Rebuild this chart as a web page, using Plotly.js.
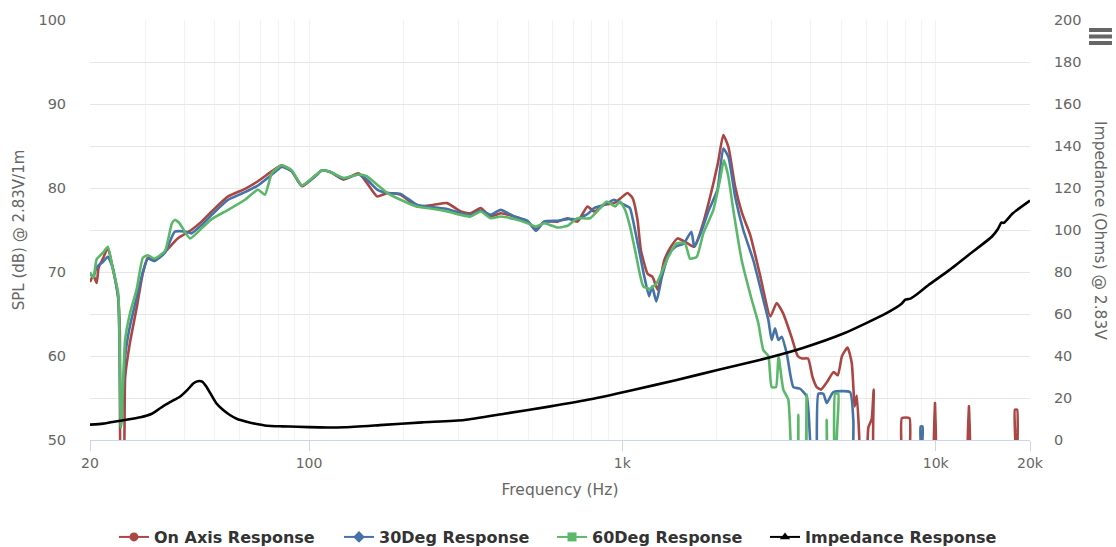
<!DOCTYPE html>
<html>
<head>
<meta charset="utf-8">
<script src="https://cdn.plot.ly/plotly-3.0.1.min.js"></script>
<style>html,body{margin:0;padding:0;background:#fff;}#chart{width:1116px;height:547px;}</style>
</head>
<body>
<div id="chart"></div>
<script>
// ---- Data ----
const onAxisFreq = [20,20.5,21,21.3,22,22.8,23.6,24.6,24.9,25.2,25.5,25.9,26.8,28.2,29.5,30.6,32.1,34.7,38.1,42.1,45.4,48.9,55.2,62.5,68.7,76.2,81.8,88.1,94.9,104.6,110,117,129,144,153,165,178,196,221,250,276,305,328,353,380,409,452,498,530,563,621,669,719,774,813,875,942,989,1039,1078,1118,1146,1204,1249,1296,1361,1429,1501,1615,1697,1783,1896,2017,2100,2180,2290,2410,2560,2744,2967,3108,3257,3464,3628,3746,3914,4045,4172,4306,4500,4724,4872,5024,5232,5396,5516,5602,5700,5780,5950,6100,6250,6342,6450,7700,7800,8250,8350,9850,9950,10050,12650,12770,12900,17700,17900,18200,18450,20000];
const onAxisSpl  = [68.8,69.6,68.7,70.5,71.6,72.9,70.6,67,63,45,45,57.5,61.5,65.8,69.9,71.7,71.4,72.4,74,75,76,77.2,79,79.9,80.8,82,82.7,82,80.2,81.4,82.1,81.9,81,81.75,80.6,79,79.4,79.2,77.8,78,78.2,77.2,77,77.6,76.6,77,76.6,76,75.1,76,76,76.4,76,77.8,77.2,78,78.2,78.8,79.4,78.8,76.2,72.6,69.8,69.4,67.9,71.4,73,74,73.4,73,75,78.6,82.9,86.3,84.9,80.2,77,74.4,69.8,64.7,66.3,65.1,62.3,60,59.7,59.7,57.5,56.3,56,56.9,58.1,57.7,60,61,59.2,54,55.3,50.5,45,45,51.5,52.5,56,45,45,52.6,52.6,45,45,54.4,45,45,54,45,45,53.6,53.6,45,45];

const deg30Freq = [20,20.5,21,22,22.8,23.6,24.6,25.1,25.9,26.8,28.2,29.5,30.6,32.1,34.7,37.3,40.5,42.1,45.4,48.9,55.2,62.5,68.7,76.2,81.8,88.1,94.9,104.6,110,117,129,144,153,165,178,196,221,250,276,305,328,353,380,409,452,498,530,563,621,669,719,774,813,875,942,989,1039,1058,1114,1170,1217,1244,1284,1337,1409,1477,1571,1661,1697,1778,1890,2012,2100,2180,2290,2432,2618,2818,2924,2996,3071,3148,3227,3347,3514,3690,3876,3973,4045,4140,4222,4379,4490,4714,5330,5460,5600,8850,8950,9080,9200,20000];
const deg30Spl  = [69.8,69.4,70.6,71.2,71.8,70.6,67,51.5,60,63.5,67,70,71.6,71.3,72.3,74.8,74.8,74.6,75.6,76.8,78.6,79.5,80.3,81.6,82.5,82,80.3,81.4,82.1,81.9,81.1,81.6,81,79.8,79.4,79.3,78,77.7,77.5,77,76.8,77.3,76.8,77.4,76.6,76.1,74.9,76,76.1,76.3,76.3,76.9,77.6,78,78.6,78.2,77.8,77.6,73.8,69.8,67.1,68.3,66.5,69.4,72.2,73,73.4,74.8,73,74.6,77.4,79.8,84.7,83.7,79,75,71.4,66.7,64.3,61.9,63.3,61.9,62.3,60.3,56.3,56.1,55.2,50,45,45,55.5,55.5,54.4,55.7,55.7,52.4,45,45,51.6,51.6,45,45];

const deg60Freq = [20,20.5,21,22,22.8,23.6,24.6,25.1,25.9,26.8,28.2,29.5,30.6,32.1,34.7,36.5,37.3,38.6,41.7,45.4,48.9,55.2,62.5,68.7,72.3,76.2,81.8,88.1,94.9,104.6,110,117,129,144,153,165,178,196,221,250,276,305,328,353,380,409,452,498,530,563,621,669,719,788,849,891,948,983,1020,1058,1098,1166,1225,1288,1336,1402,1491,1585,1644,1727,1813,1952,2050,2110,2178,2260,2404,2588,2717,2818,2924,2996,3093,3150,3264,3386,3514,3600,3644,3690,3800,3876,3950,4420,4490,4560,4700,4774,4888,4960,20000];
const deg60Spl  = [70,69.3,71.5,72.3,73,70.5,67.5,51.5,62,65,68,71.7,72,71.6,72.5,75.8,76.2,75.8,74,75.2,76.3,77.4,78.6,79.8,79.2,81.8,82.7,82.1,80.3,81.5,82.1,81.9,81.2,81.6,81.4,80.4,79.4,78.6,77.8,77.5,77.2,76.8,76.6,77.2,76.4,76.6,76.3,75.8,75.4,75.8,75.3,75.5,76.4,76.4,77.6,78.4,77.8,78.4,77.4,75.4,72.6,68.3,68,68.7,70,71.8,73.4,73.4,71.6,71.8,74.6,77.4,81,83.3,81.4,77.4,71.4,66.7,63.9,60.7,60,56.3,56.3,60,56,54.8,45,45,53,45,45,55.4,45,45,52.4,45,45,55.5,55.5,45,45];

const impFreq = [20,22,25,29,31.5,33.4,36,38.7,41,42.8,44.2,45.6,47,50.6,53,55.9,59,63.2,68,73.3,82,92,108,130,168,230,313,420,583,800,1082,1480,2012,2744,3746,5100,6943,7800,8000,8300,8600,9487,11078,12936,15104,15800,16200,16500,17636,20000];
const impOhms = [7.3,7.8,9.2,10.8,12.5,15,18,20.6,24,27,28,27.8,25.5,17.5,14.5,11.9,10,8.7,7.6,6.8,6.5,6.3,6.0,6.1,7.1,8.4,9.5,12.5,15.9,19.5,23.8,28.5,33.3,38.1,43.7,50.8,60.3,65,66.8,67.3,68.8,73.8,81,88.9,96.8,100.5,103.5,103.4,108,114];

const seriesNames = ['On Axis Response','30Deg Response','60Deg Response','Impedance Response'];
const seriesColors = ['#aa4643','#4572a7','#5bb86a','#000000'];
const seriesSymbols = ['circle','diamond','square','triangle-up'];

const xTickVals = [20,100,1000,10000,20000];
const xTickText = ['20','100','1k','10k','20k'];
const xMinorVals = [30,40,50,60,70,80,90,200,300,400,500,600,700,800,900,2000,3000,4000,5000,6000,7000,8000,9000];

// ---- Traces ----
const lw = 2.6;
const legendIds = ['legend','legend2','legend3','legend4'];
const dataSets = [
  {x: onAxisFreq, y: onAxisSpl, axis: 'y'},
  {x: deg30Freq, y: deg30Spl, axis: 'y'},
  {x: deg60Freq, y: deg60Spl, axis: 'y'},
  {x: impFreq, y: impOhms, axis: 'y2'}
];
const traces = [];
dataSets.forEach((d, i) => {
  traces.push({
    type: 'scatter', mode: 'lines', x: d.x, y: d.y, yaxis: d.axis,
    name: seriesNames[i], legendgroup: 'g' + i, showlegend: false,
    line: {color: seriesColors[i], width: lw, shape: 'spline', smoothing: 0.5},
    hoverinfo: 'x+y'
  });
});
dataSets.forEach((d, i) => {
  traces.push({
    type: 'scatter', mode: 'lines+markers', x: [null], y: [null], yaxis: d.axis,
    name: seriesNames[i], legendgroup: 'g' + i, showlegend: true, legend: legendIds[i],
    line: {color: seriesColors[i], width: 2},
    marker: {color: seriesColors[i], symbol: seriesSymbols[i], size: 9}
  });
});

const fontFam = 'DejaVu Sans, Verdana, sans-serif';
const legendFont = {family: fontFam, size: 16, color: '#333333', weight: 'bold'};
const legendX = [0.0255, 0.2649, 0.4915, 0.7181];
const mkLegend = (x) => ({orientation: 'h', x: x, xanchor: 'left', y: -0.231, yanchor: 'middle', font: legendFont, itemwidth: 30, bgcolor: 'rgba(0,0,0,0)'});

const layout = {
  width: 1116, height: 547,
  margin: {l: 90, r: 86, t: 20, b: 107, autoexpand: false},
  paper_bgcolor: '#ffffff', plot_bgcolor: '#ffffff',
  font: {family: fontFam, color: '#666666', size: 14},
  showlegend: true,
  legend: mkLegend(legendX[0]),
  legend2: mkLegend(legendX[1]),
  legend3: mkLegend(legendX[2]),
  legend4: mkLegend(legendX[3]),
  xaxis: {
    type: 'log', range: [Math.log10(20), Math.log10(20000)],
    tickmode: 'array', tickvals: xTickVals, ticktext: xTickText,
    showgrid: true, gridcolor: '#f2f2f2', gridwidth: 1,
    minor: {tickmode: 'array', tickvals: xMinorVals, showgrid: true, gridcolor: '#f2f2f2', gridwidth: 1, ticks: ''},
    showline: true, linecolor: '#ccd6eb', linewidth: 1,
    ticks: 'outside', ticklen: 10, tickcolor: '#ccd6eb', tickwidth: 1,
    tickfont: {family: fontFam, size: 14, color: '#666666'},
    title: {text: 'Frequency (Hz)', font: {family: fontFam, size: 15.5, color: '#666666'}, standoff: 14},
    zeroline: false, fixedrange: true
  },
  yaxis: {
    range: [50, 100], tickmode: 'linear', tick0: 50, dtick: 10,
    showgrid: true, gridcolor: '#e6e6e6', gridwidth: 1,
    minor: {tickmode: 'linear', tick0: 55, dtick: 10, showgrid: true, gridcolor: '#e6e6e6', gridwidth: 1, ticks: ''},
    showline: false, zeroline: false,
    ticks: 'outside', ticklen: 20, tickcolor: 'rgba(0,0,0,0)',
    tickfont: {family: fontFam, size: 14.5, color: '#666666'},
    title: {text: 'SPL (dB) @ 2.83V/1m', font: {family: fontFam, size: 15, color: '#666666'}, standoff: 10},
    fixedrange: true
  },
  yaxis2: {
    range: [0, 200], tickmode: 'linear', tick0: 0, dtick: 20,
    overlaying: 'y', side: 'right', showgrid: false, zeroline: false, showline: false,
    ticks: 'outside', ticklen: 20, tickcolor: 'rgba(0,0,0,0)',
    tickfont: {family: fontFam, size: 14.5, color: '#666666'},
    fixedrange: true
  },
  annotations: [{
    text: 'Impedance (Ohms) @ 2.83V', textangle: 90, showarrow: false,
    xref: 'paper', yref: 'paper', x: 1.0745, y: 0.5, xanchor: 'center', yanchor: 'middle',
    font: {family: fontFam, size: 15.5, color: '#666666'}
  }],
  shapes: [
    {type: 'rect', xref: 'paper', yref: 'paper', x0: 1.0628, x1: 1.0872, y0: 0.9714, y1: 0.981, fillcolor: '#666666', line: {width: 0}},
    {type: 'rect', xref: 'paper', yref: 'paper', x0: 1.0628, x1: 1.0872, y0: 0.9560, y1: 0.9655, fillcolor: '#666666', line: {width: 0}},
    {type: 'rect', xref: 'paper', yref: 'paper', x0: 1.0628, x1: 1.0872, y0: 0.9405, y1: 0.9500, fillcolor: '#666666', line: {width: 0}}
  ]
};

Plotly.newPlot('chart', traces, layout, {displayModeBar: false, responsive: false});
</script>
</body>
</html>
